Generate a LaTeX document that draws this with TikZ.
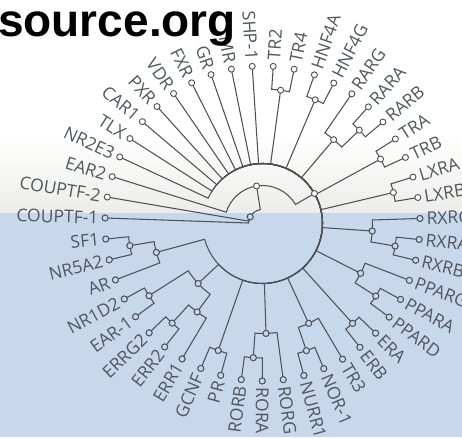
\documentclass[tikz,border=0pt]{standalone}
\usepackage{fontspec}
\setmainfont{Open Sans}
\newfontfamily\wmfont{Liberation Sans}
\definecolor{bgblue}{RGB}{199,215,236}
\definecolor{topgray}{RGB}{236,236,232}
\definecolor{ink}{RGB}{78,80,86}
\definecolor{txt}{RGB}{82,86,94}
\newcommand\br[5]{\draw[brl] (#1) arc[start angle=#3, end angle=#5, radius=#2] -- (#4);}
\begin{document}
\begin{tikzpicture}[x=1pt,y=1pt,
  brl/.style={draw=ink,line width=1.05pt},
  mk/.style={circle,draw=ink,line width=0.9pt,inner sep=0pt,minimum size=6pt},
  lbl/.style={text=txt,font=\fontsize{17.5}{17.5}\selectfont,inner sep=0pt}]
\useasboundingbox (0,0) rectangle (462,437);
\fill[white] (0,0) rectangle (462,437);
\shade[top color=white,bottom color=topgray] (0,224) rectangle (462,300);
\fill[bgblue] (0,0) rectangle (462,224);
\begin{scope}[shift={(262.5,213.5)}]
% leaves and labels
\foreach \nm/\lab [count=\i from 0] in {CF1/COUPTF-1,CF2/COUPTF-2,EAR2/EAR2,NR2E3/NR2E3,TLX/TLX,CAR1/CAR1,PXR/PXR,VDR/VDR,FXR/FXR,GR/GR,MR/MR,SHP1/SHP-1,TR2/TR2,TR4/TR4,HNF4A/HNF4A,HNF4G/HNF4G,RARG/RARG,RARA/RARA,RARB/RARB,TRA/TRA,TRB/TRB,LXRA/LXRA,LXRB/LXRB,RXRG/RXRG,RXRA/RXRA,RXRB/RXRB,PPARG/PPARG,PPARA/PPARA,PPARD/PPARD,ERA/ERA,ERB/ERB,TR3/TR3,NOR1/NOR-1,NURR1/NURR1,RORG/RORG,RORA/RORA,RORB/RORB,PR/PR,GCNF/GCNF,ERR1/ERR1,ERR2/ERR2,ERRG2/ERRG2,EAR1/EAR-1,NR1D2/NR1D2,AR/AR,NR5A2/NR5A2,SF1/SF1}
{
  \pgfmathsetmacro\ang{178-\i*7.659574}
  \coordinate (\nm) at (\ang:157.5);
  \pgfmathsetmacro\side{(\ang>-93 && \ang<92) ? 1 : 0}
  \ifdim\side pt>0.5pt
    \node[lbl,rotate=\ang,anchor=west] (t\nm) at (\ang:164) {\lab};
  \else
    \pgfmathsetmacro\rang{\ang+180}
    \node[lbl,rotate=\rang,anchor=east] (t\nm) at (\ang:164) {\lab};
  \fi
}
% internal nodes
\coordinate (tr24) at (82.26:134.5);
\coordinate (hnf) at (66.94:134.5);
\coordinate (rarab) at (43.96:134.5);
\coordinate (rar) at (49.70:110);
\coordinate (trn) at (28.64:134.5);
\coordinate (lxr) at (13.32:134.5);
\coordinate (rxrab) at (-9.66:134.5);
\coordinate (rxr) at (-3.92:110);
\coordinate (ppad) at (-32.64:134.5);
\coordinate (ppar) at (-26.90:110);
\coordinate (ern) at (-47.96:134.5);
\coordinate (nr4b) at (-70.94:134.5);
\coordinate (nr4) at (-65.20:110);
\coordinate (rorab) at (-93.92:134.5);
\coordinate (ror) at (-88.17:110);
\coordinate (prg) at (-109.23:134.5);
\coordinate (err2g) at (-132.21:134.5);
\coordinate (errn) at (-126.47:110);
\coordinate (ear) at (-147.53:134.5);
\coordinate (xn) at (-137.0:88);
\coordinate (sf) at (-170.51:134.5);
\coordinate (sfar) at (-164.77:110);
\coordinate (N2) at (30:60);
\coordinate (N1) at (99:38);
\coordinate (root) at (151.5:14);
% branches
\br{tr24}{134.5}{82.26}{TR2}{86.09}
\br{tr24}{134.5}{82.26}{TR4}{78.43}
\br{hnf}{134.5}{66.94}{HNF4A}{70.77}
\br{hnf}{134.5}{66.94}{HNF4G}{63.11}
\br{rarab}{134.5}{43.96}{RARA}{47.79}
\br{rarab}{134.5}{43.96}{RARB}{40.13}
\br{rar}{110}{49.70}{RARG}{55.45}
\br{rar}{110}{49.70}{rarab}{43.96}
\br{trn}{134.5}{28.64}{TRA}{32.47}
\br{trn}{134.5}{28.64}{TRB}{24.81}
\br{lxr}{134.5}{13.32}{LXRA}{17.15}
\br{lxr}{134.5}{13.32}{LXRB}{9.49}
\br{rxrab}{134.5}{-9.66}{RXRA}{-5.83}
\br{rxrab}{134.5}{-9.66}{RXRB}{-13.49}
\br{rxr}{110}{-3.92}{RXRG}{1.83}
\br{rxr}{110}{-3.92}{rxrab}{-9.66}
\br{ppad}{134.5}{-32.64}{PPARA}{-28.81}
\br{ppad}{134.5}{-32.64}{PPARD}{-36.47}
\br{ppar}{110}{-26.90}{PPARG}{-21.15}
\br{ppar}{110}{-26.90}{ppad}{-32.64}
\br{ern}{134.5}{-47.96}{ERA}{-44.13}
\br{ern}{134.5}{-47.96}{ERB}{-51.79}
\br{nr4b}{134.5}{-70.94}{NOR1}{-67.11}
\br{nr4b}{134.5}{-70.94}{NURR1}{-74.77}
\br{nr4}{110}{-65.20}{TR3}{-59.45}
\br{nr4}{110}{-65.20}{nr4b}{-70.94}
\br{rorab}{134.5}{-93.92}{RORA}{-90.09}
\br{rorab}{134.5}{-93.92}{RORB}{-97.74}
\br{ror}{110}{-88.17}{RORG}{-82.43}
\br{ror}{110}{-88.17}{rorab}{-93.92}
\br{prg}{134.5}{-109.23}{PR}{-105.40}
\br{prg}{134.5}{-109.23}{GCNF}{-113.06}
\br{err2g}{134.5}{-132.21}{ERR2}{-128.38}
\br{err2g}{134.5}{-132.21}{ERRG2}{-136.04}
\br{errn}{110}{-126.47}{ERR1}{-120.72}
\br{errn}{110}{-126.47}{err2g}{-132.21}
\br{ear}{134.5}{-147.53}{EAR1}{-143.70}
\br{ear}{134.5}{-147.53}{NR1D2}{-151.36}
\br{xn}{88}{-137.0}{errn}{-126.47}
\br{xn}{88}{-137.0}{ear}{-147.53}
\br{sf}{134.5}{-170.51}{NR5A2}{-166.68}
\br{sf}{134.5}{-170.51}{SF1}{-174.34}
\br{sfar}{110}{-164.77}{AR}{-159.02}
\br{sfar}{110}{-164.77}{sf}{-170.51}
% big node N2
\br{N2}{60}{30}{NR2E3}{155.02}
\br{N2}{60}{30}{TLX}{147.36}
\br{N2}{60}{30}{CAR1}{139.70}
\br{N2}{60}{30}{PXR}{132.04}
\br{N2}{60}{30}{VDR}{124.38}
\br{N2}{60}{30}{FXR}{116.72}
\br{N2}{60}{30}{GR}{109.06}
\br{N2}{60}{30}{MR}{101.40}
\br{N2}{60}{30}{SHP1}{93.74}
\br{N2}{60}{30}{tr24}{82.26}
\br{N2}{60}{30}{hnf}{66.94}
\br{N2}{60}{30}{rar}{49.70}
\br{N2}{60}{30}{trn}{28.64}
\br{N2}{60}{30}{lxr}{13.32}
\br{N2}{60}{30}{rxr}{-3.92}
\br{N2}{60}{30}{ppar}{-26.90}
\br{N2}{60}{30}{ern}{-47.96}
\br{N2}{60}{30}{nr4}{-65.20}
\br{N2}{60}{30}{ror}{-88.17}
\br{N2}{60}{30}{prg}{-109.23}
\br{N2}{60}{30}{xn}{-137.0}
\br{N2}{60}{30}{sfar}{-164.77}
% inner nodes
\br{N1}{38}{99}{EAR2}{162.68}
\br{N1}{38}{99}{N2}{30}
\br{root}{14}{151.5}{N1}{99}
\br{root}{14}{151.5}{CF2}{170.34}
\br{root}{14}{151.5}{CF1}{178}
% markers
\def\allmk{CF1,CF2,EAR2,NR2E3,TLX,CAR1,PXR,VDR,FXR,GR,MR,SHP1,TR2,TR4,HNF4A,HNF4G,RARG,RARA,RARB,TRA,TRB,LXRA,LXRB,RXRG,RXRA,RXRB,PPARG,PPARA,PPARD,ERA,ERB,TR3,NOR1,NURR1,RORG,RORA,RORB,PR,GCNF,ERR1,ERR2,ERRG2,EAR1,NR1D2,AR,NR5A2,SF1,tr24,hnf,rarab,rar,trn,lxr,rxrab,rxr,ppad,ppar,ern,nr4b,nr4,rorab,ror,prg,err2g,errn,ear,xn,sf,sfar,N2,N1,root}
\foreach \n in \allmk {\node[mk,fill=white] at (\n) {};}
\begin{scope}
\clip (-262.5,-213.5) rectangle (199.5,10.5);
\foreach \n in \allmk {\node[mk,fill=bgblue] at (\n) {};}
\end{scope}
\end{scope}
\node[anchor=base west,inner sep=0pt,font=\wmfont\bfseries\fontsize{46}{46}\selectfont] (wm) at (-2,400) {source.org};
\end{tikzpicture}
\end{document}
